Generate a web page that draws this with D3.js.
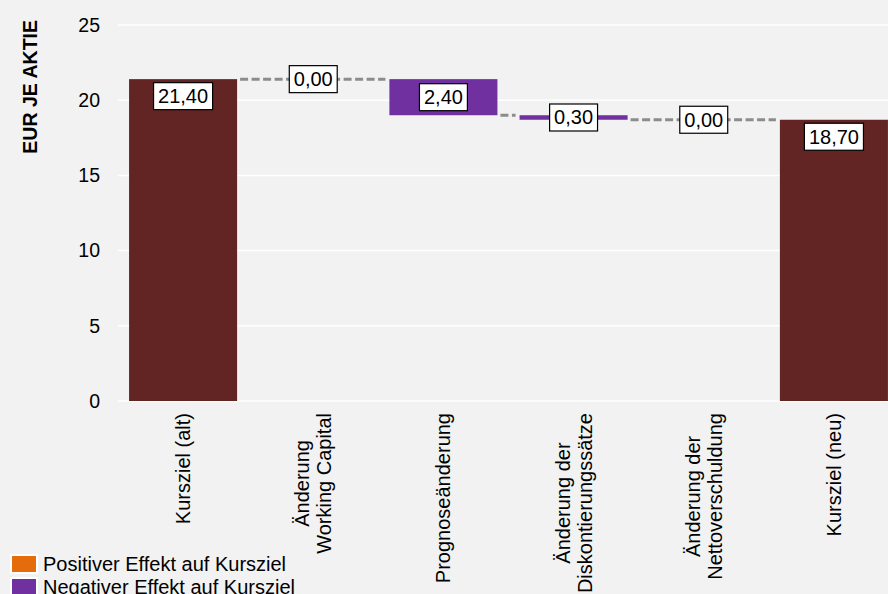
<!DOCTYPE html>
<html lang="de">
<head>
<meta charset="UTF-8" />
<title>Kursziel-Überleitung</title>
<script src="https://d3js.org/d3.v7.min.js"></script>
<style>
  body { margin: 0; background: #f2f2f2; font-family: "Liberation Sans", Arial, sans-serif; }
  svg { display: block; }
</style>
</head>
<body>
<div id="chart"></div>
<script>
  const categories = [
    "Kursziel (alt)",
    "Änderung\nWorking Capital",
    "Prognoseänderung",
    "Änderung der\nDiskontierungssätze",
    "Änderung der\nNettoverschuldung",
    "Kursziel (neu)"
  ];
  const values = [21.40, 0.00, -2.40, -0.30, 0.00, 18.70];
  const kinds = ["total", "delta", "delta", "delta", "delta", "total"];
  const yTicks = [0, 5, 10, 15, 20, 25];
  const legendLabels = ["Positiver Effekt auf Kursziel", "Negativer Effekt auf Kursziel"];

  const W = 888, H = 594;
  const colTotal = "#632523", colPos = "#e46c0a", colNeg = "#7030a0";

  const svg = d3.select("#chart").append("svg").attr("width", W).attr("height", H);
  svg.append("rect").attr("width", W).attr("height", H).attr("fill", "#f2f2f2");

  const x = d3.scaleBand().domain(categories).range([118, 899]).paddingInner(0.17).paddingOuter(0.085);
  const y = d3.scaleLinear().domain([0, 25]).range([401, 25]);

  // gridlines
  svg.append("g").selectAll("line").data(yTicks).join("line")
    .attr("x1", 118).attr("x2", W)
    .attr("y1", d => y(d)).attr("y2", d => y(d))
    .attr("stroke", "#ffffff").attr("stroke-width", 1.5);

  // y axis labels
  const yAxis = svg.append("g").attr("transform", "translate(100,0)")
    .call(d3.axisLeft(y).tickValues(yTicks).tickSize(0).tickPadding(0).tickFormat(d3.format("d")));
  yAxis.select(".domain").remove();
  yAxis.selectAll("text").attr("font-size", 19.5).attr("fill", "#000")
    .attr("font-family", "'Liberation Sans', Arial, sans-serif");

  svg.append("text")
    .attr("transform", "translate(37,20) rotate(-90)")
    .attr("text-anchor", "end")
    .attr("font-size", 19.5).attr("font-weight", "bold")
    .text("EUR JE AKTIE");

  // waterfall steps
  let level = 0;
  const steps = categories.map((c, i) => {
    let y0, y1;
    if (kinds[i] === "total") { y0 = 0; y1 = values[i]; level = values[i]; }
    else { y0 = level; y1 = level + values[i]; level = y1; }
    return { cat: c, v: values[i], kind: kinds[i], y0, y1 };
  });

  // connectors
  const drawn = steps.map((s, i) => i).filter(i => steps[i].v !== 0);
  for (let k = 0; k < drawn.length - 1; k++) {
    const a = steps[drawn[k]], b = steps[drawn[k + 1]];
    const lvl = a.kind === "total" ? a.y1 : a.y1;
    svg.append("line")
      .attr("x1", x(a.cat) + x.bandwidth() + 3)
      .attr("x2", x(b.cat) - 4)
      .attr("y1", y(lvl)).attr("y2", y(lvl))
      .attr("stroke", "#8c8c8c").attr("stroke-width", 3)
      .attr("stroke-dasharray", "8,3.5");
  }

  // bars
  svg.append("g").selectAll("rect").data(steps.filter(s => s.v !== 0)).join("rect")
    .attr("x", d => x(d.cat))
    .attr("width", x.bandwidth())
    .attr("y", d => y(Math.max(d.y0, d.y1)))
    .attr("height", d => Math.abs(y(d.y0) - y(d.y1)))
    .attr("fill", d => d.kind === "total" ? colTotal : (d.v > 0 ? colPos : colNeg));

  // value labels
  const fmt = v => Math.abs(v).toFixed(2).replace(".", ",");
  steps.forEach(s => {
    const cx = x(s.cat) + x.bandwidth() / 2;
    const bh = 27;
    let cy;
    if (s.kind === "total") cy = y(s.y1) + 3.5 + bh / 2;
    else cy = (y(s.y0) + y(s.y1)) / 2;
    const g = svg.append("g").attr("transform", `translate(${cx},${cy})`);
    const t = g.append("text").attr("text-anchor", "middle").attr("dy", "0.35em")
      .attr("font-size", 20).text(fmt(s.v));
    const tw = t.node().getComputedTextLength();
    g.insert("rect", "text")
      .attr("x", -tw / 2 - 4.5).attr("y", -bh / 2)
      .attr("width", tw + 9).attr("height", bh)
      .attr("fill", "#fff").attr("stroke", "#000").attr("stroke-width", 1.2);
  });

  // category labels (rotated, block top at y=413, lines centered)
  categories.forEach(c => {
    const lines = c.split("\n");
    const g = svg.append("g")
      .attr("transform", `translate(${x(c) + x.bandwidth() / 2},413) rotate(-90)`);
    const t = g.append("text").attr("text-anchor", "middle").attr("font-size", 20);
    lines.forEach((ln, j) => {
      t.append("tspan").attr("x", 0)
        .attr("y", (j - (lines.length - 1) / 2) * 22)
        .attr("dy", "0.35em").text(ln);
    });
    const mw = d3.max(t.selectAll("tspan").nodes(), n => n.getComputedTextLength());
    t.selectAll("tspan").attr("x", -mw / 2);
  });

  // legend
  const lg = svg.append("g").attr("transform", "translate(11,555)");
  [colPos, colNeg].forEach((col, i) => {
    lg.append("rect").attr("x", 0).attr("y", i * 23).attr("width", 26).attr("height", 18)
      .attr("fill", col).attr("stroke", "#fff").attr("stroke-width", 2);
    lg.append("text").attr("x", 32).attr("y", i * 23 + 9).attr("dy", "0.35em")
      .attr("font-size", 20).text(legendLabels[i]);
  });
</script>
</body>
</html>
